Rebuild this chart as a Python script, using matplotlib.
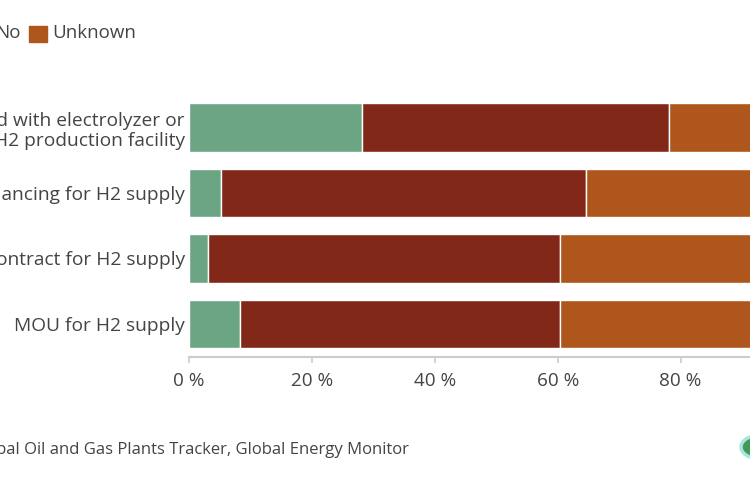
import numpy as np
import matplotlib.pyplot as plt
from matplotlib.patches import Rectangle, Circle

# share of plants (%)
categories = ["Co-located with electrolyzer or\nH2 production facility",
              "Financing for H2 supply",
              "Contract for H2 supply",
              "MOU for H2 supply"]
yes = [28.1, 5.2, 3.1, 8.3]
no = [50.0, 59.4, 57.3, 52.1]
unknown = [21.9, 35.4, 39.6, 39.6]
series_names = ["Yes", "No", "Unknown"]
colors = ["#6ca583", "#822819", "#ae561b"]
xticks = [0, 20, 40, 60, 80, 100]

plt.rcParams['font.family'] = ['Open Sans', 'DejaVu Sans']
txt = "#444444"

fig = plt.figure(figsize=(7.5, 4.83), dpi=100)
W, H = 750, 483
# plot area is wider than the picture (right side cut off)
ax = fig.add_axes([189/W, 1 - 356.5/H, 614.5/W, 261.7/H])

y = np.arange(len(categories))
left = np.zeros(len(categories))
for vals, c in zip([yes, no, unknown], colors):
    ax.barh(y, vals, left=left, height=0.74, color=c, edgecolor="white", linewidth=1)
    left += np.array(vals)

ax.set_xlim(0, 100)
ax.set_ylim(len(categories) - 0.5, -0.5)
ax.set_yticks(y)
ax.set_yticklabels(categories, fontsize=13.8, color=txt, linespacing=1.2)
ax.set_xticks(xticks)
ax.set_xticklabels([f"{t} %" for t in xticks], fontsize=13.6, color=txt)
ax.tick_params(axis="y", length=0, pad=3)
ax.tick_params(axis="x", length=4, width=1.2, color="#cccccc", pad=7)
for s in ["top", "right", "left"]:
    ax.spines[s].set_visible(False)
ax.spines["bottom"].set_color("#cccccc")
ax.spines["bottom"].set_linewidth(1.5)

# legend (starts off the left edge)
lx = [-98, -28, 29]
for name, c, x0 in zip(series_names, colors, lx):
    fig.patches.append(Rectangle((x0/W, 1 - 42/H), 18/W, 16/H, transform=fig.transFigure,
                                 color=c, figure=fig))
    fig.text((x0 + 23)/W, 1 - 33/H, name, fontsize=13.5, color=txt, va="center", ha="left")

fig.text(409/W, 1 - 450/H, "Source: Global Oil and Gas Plants Tracker, Global Energy Monitor",
         fontsize=12, color=txt, va="center", ha="right")

# logo, mostly cut off
fig.patches.append(Circle((759/W, 1 - 447/H), 18/W, transform=fig.transFigure,
                          facecolor="#3f9a5a", edgecolor="#a8e6dc", linewidth=2.5, figure=fig))

fig.savefig("out.png", dpi=100)
